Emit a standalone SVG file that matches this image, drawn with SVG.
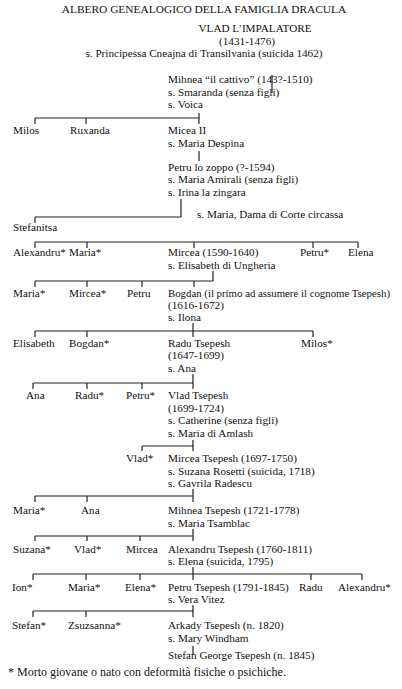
<svg xmlns="http://www.w3.org/2000/svg" width="402" height="689" viewBox="0 0 402 689">
<style>
text{font-family:"Liberation Serif","Times New Roman",serif;font-size:11.2px;fill:#111}
.t{font-size:11.4px}
.f{font-size:12px}
#connectors line{stroke:#222;stroke-width:1.2}
</style>
<rect width="402" height="689" fill="#fff"/>
<text class="t" x="204" y="13" text-anchor="middle">ALBERO GENEALOGICO DELLA FAMIGLIA DRACULA</text>
<g id="connectors">
<line x1="272" y1="75" x2="272" y2="93"/>
<line x1="35" y1="118" x2="199" y2="118"/><line x1="35" y1="118" x2="35" y2="124"/><line x1="86" y1="118" x2="86" y2="124"/><line x1="199" y1="113" x2="199" y2="124"/>
<line x1="199" y1="151" x2="199" y2="161"/>
<line x1="181" y1="199" x2="181" y2="217"/><line x1="35" y1="217" x2="181" y2="217"/><line x1="35" y1="217" x2="35" y2="223"/>
<line x1="35" y1="242" x2="358" y2="242"/><line x1="35" y1="242" x2="35" y2="248"/><line x1="87" y1="242" x2="87" y2="248"/><line x1="194" y1="242" x2="194" y2="248"/><line x1="313" y1="242" x2="313" y2="248"/><line x1="358" y1="242" x2="358" y2="248"/>
<line x1="213" y1="271" x2="213" y2="281"/><line x1="35" y1="281" x2="213" y2="281"/><line x1="35" y1="281" x2="35" y2="287"/><line x1="87" y1="281" x2="87" y2="287"/><line x1="142" y1="281" x2="142" y2="287"/><line x1="194" y1="281" x2="194" y2="287"/>
<line x1="193" y1="323" x2="193" y2="337"/><line x1="35" y1="331" x2="313" y2="331"/><line x1="35" y1="331" x2="35" y2="337"/><line x1="87" y1="331" x2="87" y2="337"/><line x1="313" y1="331" x2="313" y2="337"/>
<line x1="193" y1="374" x2="193" y2="389"/><line x1="33" y1="383" x2="193" y2="383"/><line x1="33" y1="383" x2="33" y2="389"/><line x1="87" y1="383" x2="87" y2="389"/><line x1="142" y1="383" x2="142" y2="389"/>
<line x1="193" y1="440" x2="193" y2="451"/><line x1="142" y1="446" x2="193" y2="446"/><line x1="142" y1="446" x2="142" y2="451"/>
<line x1="193" y1="489" x2="193" y2="502"/><line x1="35" y1="496" x2="193" y2="496"/><line x1="35" y1="496" x2="35" y2="502"/><line x1="87" y1="496" x2="87" y2="502"/>
<line x1="193" y1="529" x2="193" y2="541"/><line x1="35" y1="536" x2="193" y2="536"/><line x1="35" y1="536" x2="35" y2="541"/><line x1="87" y1="536" x2="87" y2="541"/><line x1="140" y1="536" x2="140" y2="541"/>
<line x1="193" y1="567" x2="193" y2="580"/><line x1="33" y1="574" x2="362" y2="574"/><line x1="33" y1="574" x2="33" y2="580"/><line x1="86" y1="574" x2="86" y2="580"/><line x1="140" y1="574" x2="140" y2="580"/><line x1="311" y1="574" x2="311" y2="580"/><line x1="362" y1="574" x2="362" y2="580"/>
<line x1="193" y1="605" x2="193" y2="617"/><line x1="33" y1="611" x2="193" y2="611"/><line x1="33" y1="611" x2="33" y2="617"/><line x1="86" y1="611" x2="86" y2="617"/>
<line x1="193" y1="646" x2="193" y2="655"/>
</g>
<g id="vlad"><text x="255" y="32" text-anchor="middle">VLAD L’IMPALATORE</text><text x="247" y="45" text-anchor="middle">(1431-1476)</text><text x="204" y="57" text-anchor="middle">s. Principessa Cneajna di Transilvania (suicida 1462)</text></g>
<g id="mihnea"><text x="168" y="83">Mihnea “il cattivo” (143?-1510)</text><text x="168" y="96">s. Smaranda (senza figli)</text><text x="168" y="108">s. Voica</text></g>
<g id="milos1"><text x="13" y="134">Milos</text></g>
<g id="ruxanda"><text x="70" y="134">Ruxanda</text></g>
<g id="micea2"><text x="168" y="134">Micea II</text><text x="168" y="147">s. Maria Despina</text></g>
<g id="petru-zoppo"><text x="168" y="171">Petru lo zoppo (?-1594)</text><text x="168" y="183">s. Maria Amirali (senza figli)</text><text x="168" y="196">s. Irina la zingara</text><text x="197" y="218">s. Maria, Dama di Corte circassa</text></g>
<g id="stefanitsa"><text x="13" y="231">Stefanitsa</text></g>
<g id="alexandru1"><text x="13" y="256">Alexandru*</text></g>
<g id="maria1"><text x="69" y="256">Maria*</text></g>
<g id="mircea1590"><text x="168" y="256">Mircea (1590-1640)</text><text x="168" y="269">s. Elisabeth di Ungheria</text></g>
<g id="petru1"><text x="300" y="256">Petru*</text></g>
<g id="elena1"><text x="348" y="256">Elena</text></g>
<g id="maria2"><text x="13" y="297">Maria*</text></g>
<g id="mircea2"><text x="69" y="297">Mircea*</text></g>
<g id="petru2"><text x="127" y="297">Petru</text></g>
<g id="bogdan"><text x="168" y="297" textLength="222" lengthAdjust="spacingAndGlyphs">Bogdan (il primo ad assumere il cognome Tsepesh)</text><text x="168" y="309">(1616-1672)</text><text x="168" y="321">s. Ilona</text></g>
<g id="elisabeth"><text x="13" y="347">Elisabeth</text></g>
<g id="bogdan2"><text x="69" y="347">Bogdan*</text></g>
<g id="radu-tsepesh"><text x="168" y="347">Radu Tsepesh</text><text x="168" y="359">(1647-1699)</text><text x="168" y="372">s. Ana</text></g>
<g id="milos2"><text x="301" y="347">Milos*</text></g>
<g id="ana1"><text x="26" y="399">Ana</text></g>
<g id="radu2"><text x="75" y="399">Radu*</text></g>
<g id="petru3"><text x="126" y="399">Petru*</text></g>
<g id="vlad-tsepesh"><text x="168" y="399">Vlad Tsepesh</text><text x="168" y="412">(1699-1724)</text><text x="168" y="424">s. Catherine (senza figli)</text><text x="168" y="437">s. Maria di Amlash</text></g>
<g id="vlad2"><text x="126" y="462">Vlad*</text></g>
<g id="mircea-tsepesh"><text x="168" y="462">Mircea Tsepesh (1697-1750)</text><text x="168" y="475">s. Suzana Rosetti (suicida, 1718)</text><text x="168" y="487">s. Gavrila Radescu</text></g>
<g id="maria3"><text x="13" y="514">Maria*</text></g>
<g id="ana2"><text x="81" y="514">Ana</text></g>
<g id="mihnea-tsepesh"><text x="168" y="514">Mihnea Tsepesh (1721-1778)</text><text x="168" y="527">s. Maria Tsamblac</text></g>
<g id="suzana"><text x="13" y="553">Suzana*</text></g>
<g id="vlad3"><text x="74" y="553">Vlad*</text></g>
<g id="mircea3"><text x="126" y="553">Mircea</text></g>
<g id="alexandru-tsepesh"><text x="168" y="553">Alexandru Tsepesh (1760-1811)</text><text x="168" y="565">s. Elena (suicida, 1795)</text></g>
<g id="ion"><text x="12" y="591">Ion*</text></g>
<g id="maria4"><text x="68" y="591">Maria*</text></g>
<g id="elena2"><text x="125" y="591">Elena*</text></g>
<g id="petru-tsepesh"><text x="168" y="591">Petru Tsepesh (1791-1845)</text><text x="168" y="603">s. Vera Vitez</text></g>
<g id="radu3"><text x="299" y="591">Radu</text></g>
<g id="alexandru2"><text x="338" y="591">Alexandru*</text></g>
<g id="stefan"><text x="12" y="629">Stefan*</text></g>
<g id="zsuzsanna"><text x="68" y="629">Zsuzsanna*</text></g>
<g id="arkady"><text x="168" y="629">Arkady Tsepesh (n. 1820)</text><text x="168" y="642">s. Mary Windham</text></g>
<g id="stefan-george"><text x="168" y="659">Stefan George Tsepesh (n. 1845)</text></g>
<text class="f" x="8" y="676">*  Morto giovane o nato con deformità fisiche o psichiche.</text>
</svg>
